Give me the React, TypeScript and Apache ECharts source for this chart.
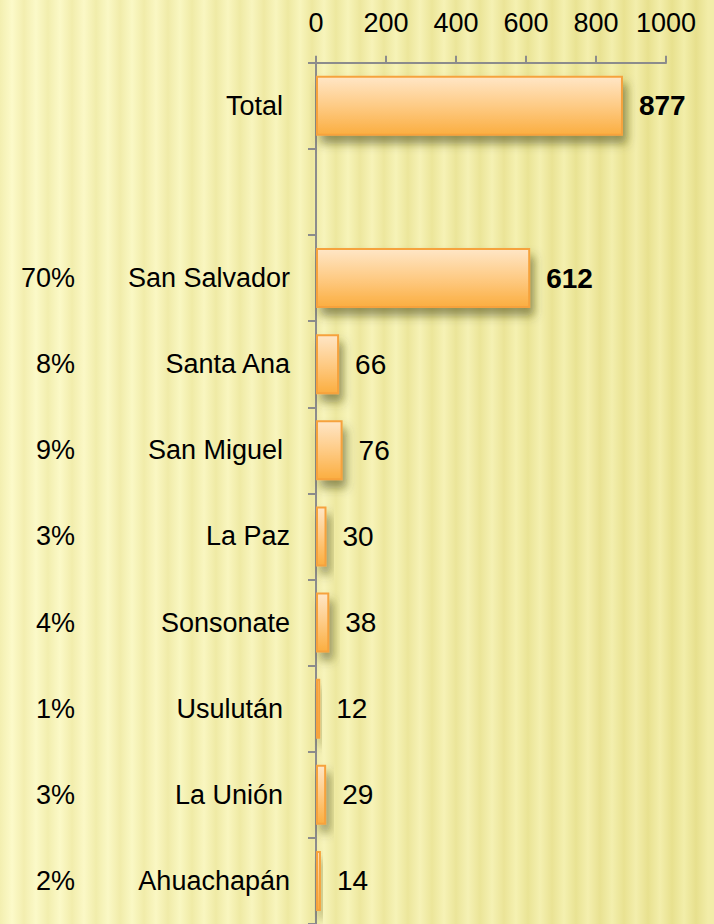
import React, { useEffect, useRef } from "react";
import * as echarts from "echarts";

const categories = [
  "Total ",
  "",
  "San Salvador",
  "Santa Ana",
  "San Miguel ",
  "La Paz",
  "Sonsonate",
  "Usulután ",
  "La Unión ",
  "Ahuachapán",
];
const values: (number | null)[] = [877, null, 612, 66, 76, 30, 38, 12, 29, 14];
const percents = ["", "", "70%", "8%", "9%", "3%", "4%", "1%", "3%", "2%"];
const boldIdx = [0, 2];
const xTicks = { min: 0, max: 1000, interval: 200 };

const FONT = "'Liberation Sans', Arial, sans-serif";
const AXIS_GRAY = "#8c8c8c";

function mix(a: number[], b: number[], t: number) {
  const c = a.map((v, i) => Math.round(v + (b[i] - v) * t));
  return `rgb(${c[0]},${c[1]},${c[2]})`;
}

function stripeBackground() {
  const W = 714;
  const period = 24;
  const lightL = [252, 250, 202];
  const lightR = [242, 237, 168];
  const darkL = [243, 239, 176];
  const darkR = [231, 224, 140];
  const stops: { offset: number; color: string }[] = [];
  const n = Math.ceil(W / period);
  for (let k = 0; k <= n; k++) {
    const x0 = k * period;
    const x1 = x0 + period * 0.5;
    const t0 = Math.min(1, x0 / W);
    const t1 = Math.min(1, x1 / W);
    if (x0 <= W) stops.push({ offset: x0 / W, color: mix(darkL, darkR, t0) });
    if (x1 <= W) stops.push({ offset: x1 / W, color: mix(lightL, lightR, t1) });
  }
  return new echarts.graphic.LinearGradient(0, 0, 1, 0, stops);
}

export default function App() {
  const ref = useRef<HTMLDivElement>(null);
  useEffect(() => {
    document.body.style.margin = "0";
    document.body.style.overflow = "hidden";
    const chart = echarts.init(ref.current!, null, { renderer: "svg" });
    const barColor = new echarts.graphic.LinearGradient(0, 0, 0, 1, [
      { offset: 0, color: "#FFE6C6" },
      { offset: 0.5, color: "#FECB85" },
      { offset: 1, color: "#FBAE40" },
    ]);
    chart.setOption({
      animation: false,
      backgroundColor: stripeBackground(),
      textStyle: { fontFamily: FONT },
      grid: { left: 316, top: 62.8, width: 350, height: 864.4, containLabel: false },
      xAxis: {
        type: "value",
        position: "top",
        min: xTicks.min,
        max: xTicks.max,
        interval: xTicks.interval,
        splitLine: { show: false },
        axisLine: { show: true, lineStyle: { color: AXIS_GRAY, width: 2 } },
        axisTick: { show: true, length: 7, lineStyle: { color: AXIS_GRAY, width: 2 } },
        axisLabel: {
          fontSize: 27,
          color: "#000",
          margin: 26,
          fontFamily: FONT,
          formatter: (v: number) => String(v),
        },
      },
      yAxis: [
        {
          type: "category",
          inverse: true,
          data: categories,
          axisLine: { show: true, lineStyle: { color: AXIS_GRAY, width: 2 } },
          axisTick: { show: true, length: 8, lineStyle: { color: AXIS_GRAY, width: 2 } },
          axisLabel: {
            margin: 26,
            color: "#000",
            fontSize: 27,
            fontFamily: FONT,
            formatter: (v: string) => {
              if (!v) return "";
              if (v.endsWith(" ")) return `{t|${v.trim()}}`;
              return `{n|${v}}`;
            },
            rich: {
              n: { fontSize: 27, color: "#000", fontFamily: FONT },
              t: { fontSize: 27, color: "#000", fontFamily: FONT, padding: [0, 7, 0, 0] },
            },
          },
        },
        {
          type: "category",
          inverse: true,
          position: "left",
          data: percents,
          axisLine: { show: false },
          axisTick: { show: false },
          axisLabel: { margin: 241, color: "#000", fontSize: 27, fontFamily: FONT },
        },
      ],
      series: [
        {
          type: "bar",
          yAxisIndex: 0,
          data: values.map((v, i) => ({
            value: v,
            label: { fontWeight: boldIdx.includes(i) ? "bold" : "normal" },
          })),
          barWidth: 60,
          itemStyle: {
            color: barColor,
            borderColor: "#F6A23C",
            borderWidth: 2,
            shadowColor: "rgba(70,70,20,0.55)",
            shadowBlur: 10,
            shadowOffsetX: 4,
            shadowOffsetY: 8,
          },
          label: {
            show: true,
            position: "right",
            distance: 16,
            fontSize: 28,
            color: "#000",
            fontFamily: FONT,
          },
        },
      ],
    });
    return () => chart.dispose();
  }, []);
  return (
    <div
      ref={ref}
      style={{ position: "fixed", left: 0, top: 0, width: 714, height: 924 }}
    />
  );
}
